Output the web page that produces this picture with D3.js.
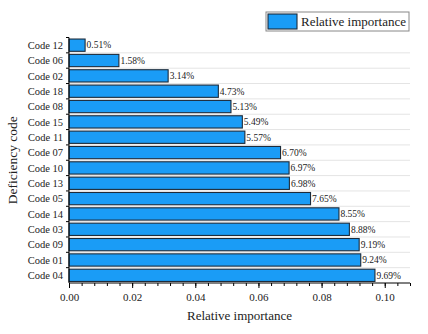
<!DOCTYPE html>
<html>
<head>
<meta charset="utf-8">
<script src="https://d3js.org/d3.v7.min.js"></script>
<style>
  body { margin: 0; background: #fff; }
  svg, svg text { font-family: "Liberation Serif", "Times New Roman", Times, serif !important; }
</style>
</head>
<body>
<div id="chart"></div>
<script>
var svgWidth = 428;
var svgHeight = 334;

var margin = { top: 37.5, right: 18, bottom: 51, left: 69 };
var width = svgWidth - margin.left - margin.right;
var height = svgHeight - margin.top - margin.bottom;

// data, top to bottom
var codes = ["Code 12", "Code 06", "Code 02", "Code 18", "Code 08", "Code 15", "Code 11", "Code 07",
  "Code 10", "Code 13", "Code 05", "Code 14", "Code 03", "Code 09", "Code 01", "Code 04"];
var importance = [0.0051, 0.0158, 0.0314, 0.0473, 0.0513, 0.0549, 0.0557, 0.0670,
  0.0697, 0.0698, 0.0765, 0.0855, 0.0888, 0.0919, 0.0924, 0.0969];
var xTicks = [0, 0.02, 0.04, 0.06, 0.08, 0.10];
var seriesName = "Relative importance";

var serif = '"Liberation Serif", "Times New Roman", serif';
var data = codes.map(function(c, i) { return { code: c, value: importance[i] }; });

var svg = d3.select("#chart")
  .append("svg")
  .attr("width", svgWidth)
  .attr("height", svgHeight)
  .attr("font-family", serif);

var chartGroup = svg.append("g")
  .attr("transform", `translate(${margin.left}, ${margin.top})`);

var xScale = d3.scaleLinear()
  .domain([0, 0.108])
  .range([0, width]);

var yScale = d3.scaleBand()
  .domain(codes)
  .range([0, height])
  .paddingInner(0.2)
  .paddingOuter(0.1);

// faint gridlines at band boundaries
var step = yScale.step();
var bounds = d3.range(1, codes.length).map(function(i) { return i * step; });
chartGroup.selectAll(".grid")
  .data(bounds)
  .enter()
  .append("line")
  .attr("x1", 0)
  .attr("x2", width)
  .attr("y1", d => d)
  .attr("y2", d => d)
  .attr("stroke", "#e4e4e4")
  .attr("stroke-width", 1);

// bars
chartGroup.selectAll("rect.bar")
  .data(data)
  .enter()
  .append("rect")
  .attr("class", "bar")
  .attr("x", 0)
  .attr("y", d => yScale(d.code))
  .attr("width", d => xScale(d.value))
  .attr("height", yScale.bandwidth())
  .attr("fill", "#1a9cf6")
  .attr("stroke", "#1d2b3a")
  .attr("stroke-width", 1.1);

// value labels
chartGroup.selectAll("text.val")
  .data(data)
  .enter()
  .append("text")
  .attr("class", "val")
  .attr("x", d => xScale(d.value) + 1.5)
  .attr("y", d => yScale(d.code) + yScale.bandwidth() / 2)
  .attr("dy", "0.35em")
  .attr("font-size", "9.5px")
  .attr("fill", "#222")
  .text(d => (d.value * 100).toFixed(2) + "%");

// x axis with minor ticks
var xAxisG = chartGroup.append("g")
  .attr("transform", `translate(0, ${height})`);

xAxisG.append("g")
  .call(d3.axisBottom(xScale).tickValues(d3.range(0, 0.1081, 0.004)).tickSize(3).tickFormat(""))
  .call(g => g.select(".domain").remove());

xAxisG.append("g")
  .call(d3.axisBottom(xScale).tickValues(xTicks).tickSize(5).tickPadding(5)
    .tickFormat(d3.format(".2f")))
  .attr("font-family", serif)
  .call(g => g.select(".domain").attr("d", `M0,0H${width}`))
  .call(g => g.selectAll("text").attr("font-size", "11px").attr("fill", "#222"));

// y axis: ticks at band edges
var yAxisG = chartGroup.append("g");
yAxisG.append("line")
  .attr("x1", 0).attr("x2", 0)
  .attr("y1", 0).attr("y2", height)
  .attr("stroke", "#000");
yAxisG.selectAll("line.ytick")
  .data([0].concat(bounds))
  .enter()
  .append("line")
  .attr("class", "ytick")
  .attr("x1", -3).attr("x2", 0)
  .attr("y1", d => d).attr("y2", d => d)
  .attr("stroke", "#000");
yAxisG.selectAll("text.ylab")
  .data(codes)
  .enter()
  .append("text")
  .attr("class", "ylab")
  .attr("x", -6)
  .attr("y", d => yScale(d) + yScale.bandwidth() / 2)
  .attr("dy", "0.35em")
  .attr("text-anchor", "end")
  .attr("font-size", "10.5px")
  .attr("fill", "#222")
  .text(d => d);

// axis titles
chartGroup.append("text")
  .attr("x", width / 2)
  .attr("y", height + 37)
  .attr("text-anchor", "middle")
  .attr("font-size", "13px")
  .attr("fill", "#222")
  .text("Relative importance");

chartGroup.append("text")
  .attr("transform", "rotate(-90)")
  .attr("x", -height / 2)
  .attr("y", -52)
  .attr("text-anchor", "middle")
  .attr("font-size", "13.5px")
  .attr("fill", "#222")
  .text("Deficiency code");

// legend
var legend = svg.append("g").attr("transform", "translate(266, 12)");
legend.append("rect")
  .attr("width", 143).attr("height", 19)
  .attr("fill", "#fff")
  .attr("stroke", "#888")
  .attr("stroke-width", 1);
legend.append("rect")
  .attr("x", 2).attr("y", 2)
  .attr("width", 29).attr("height", 15)
  .attr("fill", "#1a9cf6")
  .attr("stroke", "#1d2b3a")
  .attr("stroke-width", 1.1);
legend.append("text")
  .attr("x", 35).attr("y", 9.5)
  .attr("dy", "0.35em")
  .attr("font-size", "13px")
  .attr("fill", "#222")
  .text(seriesName);
</script>
</body>
</html>
